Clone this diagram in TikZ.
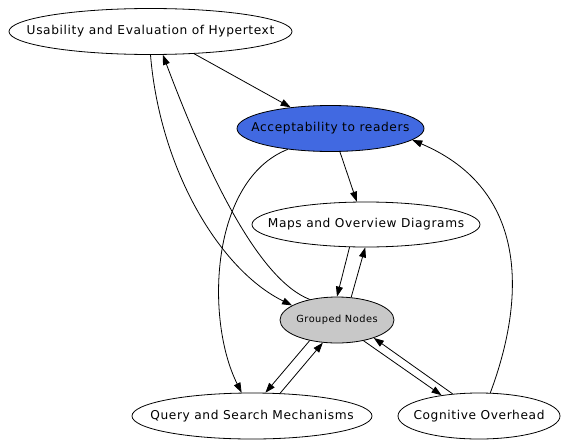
\documentclass[tikz,border=0pt]{standalone}
\usepackage{fontspec}
\setmainfont{DejaVu Sans}[LetterSpace=5]
\usetikzlibrary{shapes.geometric}
\usetikzlibrary{arrows.meta}
\definecolor{accblue}{RGB}{65,105,225}
\definecolor{grpgray}{RGB}{200,200,200}
\newcommand{\nlabel}[1]{\makebox[0pt]{#1}}

\begin{document}
\begin{tikzpicture}[x=1pt,y=-1pt,
  topic/.style={ellipse,draw=black,line width=0.8pt,inner sep=0pt,minimum height=46pt,text=black,font=\fontsize{12.2}{14}\selectfont},
  link/.style={draw=black,line width=0.8pt,-{Triangle[length=10pt,width=7pt]}}]
\useasboundingbox (0,0) rectangle (569,447);

\node[topic,minimum width=283pt] (use) at (150.5,31.5) {\nlabel{Usability and Evaluation of Hypertext}};
\node[topic,minimum width=187pt,fill=accblue] (acc) at (330.5,128.5) {\nlabel{Acceptability to readers}};
\node[topic,minimum width=228pt,minimum height=45pt] (maps) at (366,224.5) {\nlabel{Maps and Overview Diagrams}};
\node[topic,minimum width=114pt,fill=grpgray,font=\fontsize{9.8}{12}\selectfont] (grp) at (337,320) {\nlabel{Grouped Nodes}};
\node[topic,minimum width=240pt] (qry) at (252,416) {\nlabel{Query and Search Mechanisms}};
\node[topic,minimum width=162pt] (cog) at (479,416) {\nlabel{Cognitive Overhead}};

\draw[link] (use.-27) -- (acc.152);
\draw[link] (acc.-68) -- (maps.112);
\draw[link] (maps.-126) -- (grp.90);
\draw[link] (grp.58) -- (maps.-92);
\draw[link] (use.-90) .. controls (160,170) and (220,270) .. (grp.162);
\draw[link] (grp.143) .. controls (260,280) and (210,180) .. (use.-62);
\draw[link] (acc.-154) .. controls (210,180) and (205,320) .. (qry.114);
\draw[link] (grp.-143) -- (qry.60);
\draw[link] (qry.39) -- (grp.-122);
\draw[link] (grp.-38) -- (cog.151);
\draw[link] (cog.140) -- (grp.-26);
\draw[link] (cog.64) .. controls (525,300) and (530,190) .. (acc.-8);

\end{tikzpicture}
\end{document}
